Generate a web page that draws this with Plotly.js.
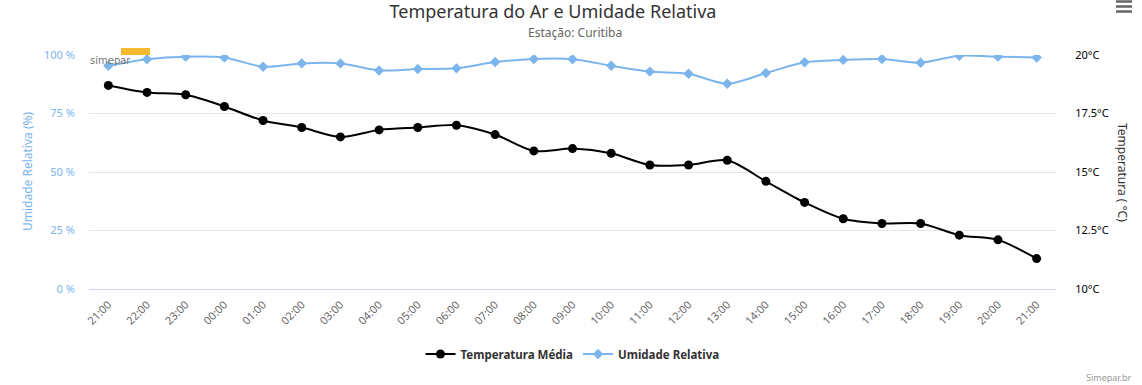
<!DOCTYPE html>
<html>
<head>
<meta charset="utf-8">
<script src="https://cdn.plot.ly/plotly-3.0.1.min.js"></script>
<style>
  html, body { margin: 0; padding: 0; background: #fff; }
  #chart { width: 1142px; height: 385px; }
</style>
</head>
<body>
<div id="chart"></div>
<script>
const hours = ["21:00","22:00","23:00","00:00","01:00","02:00","03:00","04:00","05:00","06:00","07:00","08:00","09:00","10:00","11:00","12:00","13:00","14:00","15:00","16:00","17:00","18:00","19:00","20:00","21:00"];
const temperatura = [18.7,18.4,18.3,17.8,17.2,16.9,16.5,16.8,16.9,17.0,16.6,15.9,16.0,15.8,15.3,15.3,15.5,14.6,13.7,13.0,12.8,12.8,12.3,12.1,11.3];
const umidade = [95.4,98.2,99.3,98.9,95.0,96.4,96.4,93.4,94.0,94.3,97.0,98.3,98.2,95.4,92.9,92.0,87.7,92.3,96.9,97.9,98.3,96.7,99.7,99.3,98.9];
const umidadeTicks = [0,25,50,75,100];
const tempTicks = [10,12.5,15,17.5,20];

const xIdx = hours.map((_, i) => i);
const W = 1142, H = 385, L = 89, R = 86, T = 55, B = 96;
const pw = W - L - R, ph = H - T - B;
const px = x => (x - L) / pw;
const py = y => (H - B - y) / ph;

const font = "'Noto Sans', 'Open Sans', 'DejaVu Sans', sans-serif";
const blue = '#7cb5ec';

const traces = [
  {
    x: xIdx, y: temperatura, name: 'Temperatura Média', yaxis: 'y2',
    type: 'scatter', mode: 'lines+markers',
    line: {color: '#000000', width: 2, shape: 'spline', smoothing: 0.8},
    marker: {symbol: 'circle', size: 9, color: '#000000'}
  },
  {
    x: xIdx, y: umidade, name: 'Umidade Relativa', yaxis: 'y',
    type: 'scatter', mode: 'lines+markers',
    line: {color: blue, width: 2, shape: 'spline', smoothing: 0.8},
    marker: {symbol: 'diamond', size: 8, color: blue}
  }
];

const layout = {
  width: W, height: H,
  margin: {l: L, r: R, t: T, b: B, pad: 0},
  paper_bgcolor: '#ffffff', plot_bgcolor: '#ffffff',
  font: {family: font, color: '#333333', size: 11},
  showlegend: true,
  title: {
    text: 'Temperatura do Ar e Umidade Relativa',
    font: {family: font, size: 18, color: '#333333'},
    x: 553 / W, xanchor: 'center', xref: 'container',
    y: 1 - 12 / H, yanchor: 'middle', yref: 'container'
  },
  xaxis: {
    range: [-0.5, hours.length - 0.5],
    tickmode: 'array', tickvals: xIdx, ticktext: hours,
    tickangle: -45, tickfont: {size: 11, color: '#666666', family: font},
    showgrid: false, zeroline: false,
    showline: true, linecolor: '#ccd6eb', linewidth: 1,
    ticks: 'outside', ticklen: 4, tickcolor: 'rgba(0,0,0,0)',
    fixedrange: true
  },
  yaxis: {
    range: [0, 100], tickmode: 'array', tickvals: umidadeTicks,
    ticktext: umidadeTicks.map(v => v + ' %'),
    tickfont: {size: 11, color: blue, family: font},
    showgrid: true, gridcolor: '#e6e6e6', gridwidth: 1,
    zeroline: false, showline: false,
    ticks: 'outside', ticklen: 11, tickcolor: 'rgba(0,0,0,0)',
    fixedrange: true
  },
  yaxis2: {
    range: [10, 20], overlaying: 'y', side: 'right',
    tickmode: 'array', tickvals: tempTicks,
    ticktext: tempTicks.map(v => v + '°C'),
    tickfont: {size: 11, color: '#000000', family: font},
    showgrid: false, zeroline: false, showline: false,
    ticks: 'outside', ticklen: 16, tickcolor: 'rgba(0,0,0,0)',
    fixedrange: true
  },
  legend: {
    orientation: 'h', x: 0.5, xanchor: 'center',
    y: py(354), yanchor: 'middle',
    font: {family: font, size: 11.5, color: '#333333', weight: 'bold'},
    bgcolor: 'rgba(0,0,0,0)', itemwidth: 30, traceorder: 'normal'
  },
  shapes: [
    {type: 'rect', xref: 'paper', yref: 'paper', x0: px(121), x1: px(150), y0: py(55), y1: py(48),
     fillcolor: '#f5b21b', line: {width: 0}, opacity: 0.9, layer: 'below'},
    {type: 'line', xref: 'paper', yref: 'paper', x0: px(1116), x1: px(1132), y0: py(1.5), y1: py(1.5), line: {color: '#666666', width: 2.5}},
    {type: 'line', xref: 'paper', yref: 'paper', x0: px(1116), x1: px(1132), y0: py(6.5), y1: py(6.5), line: {color: '#666666', width: 2.5}},
    {type: 'line', xref: 'paper', yref: 'paper', x0: px(1116), x1: px(1132), y0: py(11.5), y1: py(11.5), line: {color: '#666666', width: 2.5}}
  ],
  annotations: [
    {text: 'Estação: Curitiba', xref: 'paper', yref: 'paper', x: px(575), y: py(33),
     xanchor: 'center', yanchor: 'middle', showarrow: false,
     font: {family: font, size: 12, color: '#666666'}},
    {text: 'Umidade Relativa (%)', xref: 'paper', yref: 'paper', x: px(27), y: py(172),
     xanchor: 'center', yanchor: 'middle', textangle: -90, showarrow: false,
     font: {family: font, size: 12, color: blue}},
    {text: 'Temperatura ( °C)', xref: 'paper', yref: 'paper', x: px(1123), y: py(172),
     xanchor: 'center', yanchor: 'middle', textangle: 90, showarrow: false,
     font: {family: font, size: 12, color: '#333333'}},
    {text: 'Simepar.br', xref: 'paper', yref: 'paper', x: px(1134), y: py(377),
     xanchor: 'right', yanchor: 'middle', showarrow: false,
     font: {family: font, size: 9, color: '#999999'}},
    {text: 'simepar', xref: 'paper', yref: 'paper', x: px(88), y: py(60),
     xanchor: 'left', yanchor: 'middle', showarrow: false,
     font: {family: "'DejaVu Sans', sans-serif", size: 10, color: '#777777'}}
  ]
};

Plotly.newPlot('chart', traces, layout, {displayModeBar: false, responsive: false, staticPlot: true});
</script>
</body>
</html>
